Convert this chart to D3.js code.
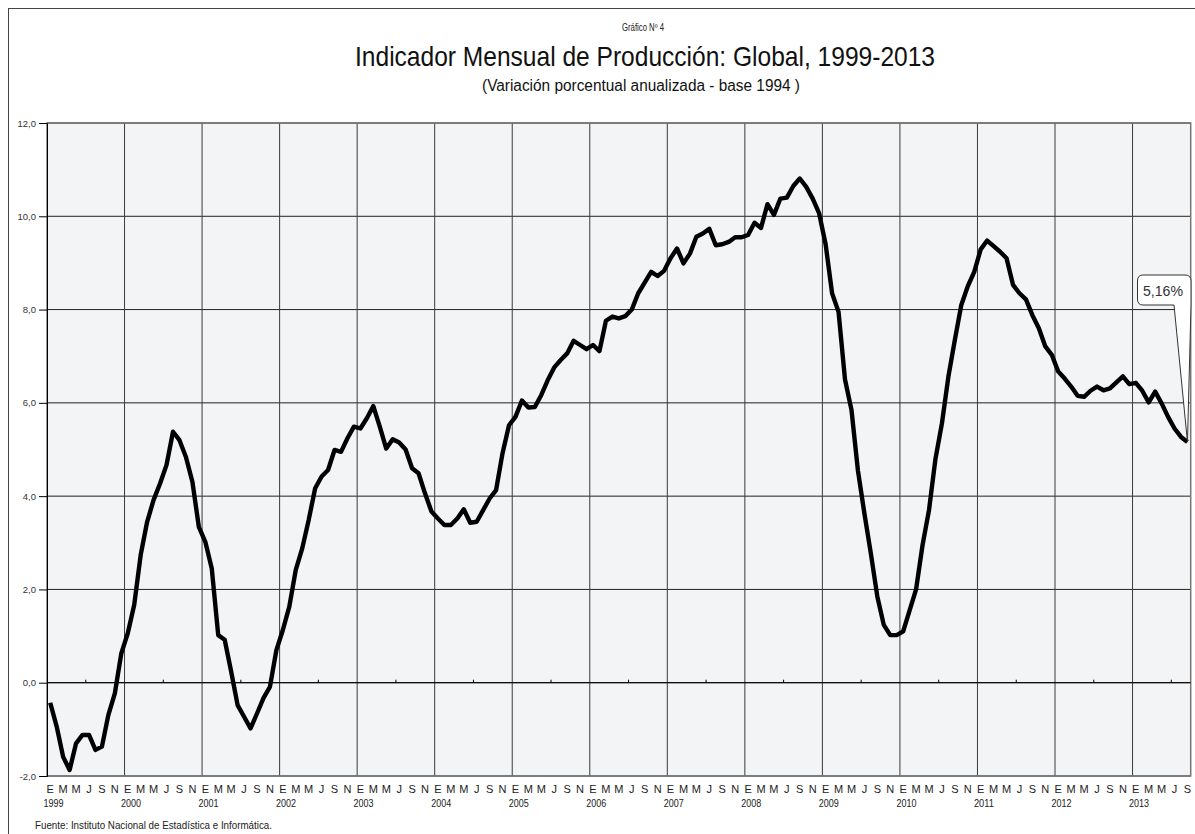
<!DOCTYPE html>
<html lang="es">
  <head>
  <meta charset="utf-8"/>
    <script type="text/javascript" src="https://cdnjs.cloudflare.com/ajax/libs/d3/7.8.5/d3.min.js"></script>
    <style>
      body { margin: 0; background: #fff; }
      .narrow { font-family: "Liberation Sans Narrow", "Arial Narrow", "Liberation Sans", sans-serif; }
    </style>
  </head>
  <body>
<svg class="grafico"></svg>
    <script type="text/javascript">

// years on the category axis
var anios = [1999, 2000, 2001, 2002, 2003, 2004, 2005, 2006, 2007, 2008, 2009, 2010, 2011, 2012, 2013];
// month letters written every two months
var letrasMes = ["E", "M", "M", "J", "S", "N"];
// y axis ticks
var ticksY = [-2, 0, 2, 4, 6, 8, 10, 12];

// monthly values, one array per year (2013 ends in September)
var v1999 = [-0.43, -0.94, -1.59, -1.87, -1.30, -1.12, -1.12, -1.44, -1.37, -0.69, -0.23, 0.63];
var v2000 = [1.06, 1.67, 2.74, 3.45, 3.92, 4.27, 4.67, 5.38, 5.20, 4.84, 4.31, 3.34];
var v2001 = [3.02, 2.45, 1.02, 0.92, 0.24, -0.48, -0.73, -0.98, -0.66, -0.33, -0.09, 0.70];
var v2002 = [1.13, 1.63, 2.42, 2.88, 3.49, 4.17, 4.42, 4.56, 4.99, 4.95, 5.24, 5.49];
var v2003 = [5.45, 5.67, 5.93, 5.49, 5.02, 5.22, 5.15, 5.00, 4.60, 4.49, 4.06, 3.67];
var v2004 = [3.52, 3.38, 3.38, 3.52, 3.72, 3.43, 3.45, 3.70, 3.95, 4.13, 4.92, 5.52];
var v2005 = [5.70, 6.05, 5.90, 5.91, 6.17, 6.49, 6.76, 6.92, 7.06, 7.33, 7.24, 7.15];
var v2006 = [7.24, 7.11, 7.76, 7.85, 7.81, 7.86, 8.00, 8.35, 8.58, 8.81, 8.72, 8.83];
var v2007 = [9.10, 9.31, 8.99, 9.20, 9.56, 9.63, 9.73, 9.38, 9.40, 9.45, 9.55, 9.55];
var v2008 = [9.60, 9.86, 9.75, 10.26, 10.03, 10.38, 10.40, 10.65, 10.81, 10.63, 10.38, 10.06];
var v2009 = [9.40, 8.35, 7.95, 6.50, 5.85, 4.55, 3.63, 2.77, 1.85, 1.24, 1.02, 1.02];
var v2010 = [1.10, 1.55, 2.00, 2.95, 3.70, 4.80, 5.56, 6.56, 7.35, 8.10, 8.50, 8.81];
var v2011 = [9.29, 9.48, 9.36, 9.24, 9.10, 8.53, 8.35, 8.22, 7.88, 7.60, 7.21, 7.03];
var v2012 = [6.67, 6.52, 6.35, 6.15, 6.13, 6.26, 6.35, 6.27, 6.31, 6.44, 6.57, 6.40];
var v2013 = [6.43, 6.26, 6.01, 6.24, 5.99, 5.70, 5.45, 5.27, 5.16];

var valores = [].concat(v1999, v2000, v2001, v2002, v2003, v2004, v2005, v2006,
  v2007, v2008, v2009, v2010, v2011, v2012, v2013);

var width = 1195, height = 834;
// plot box (kept away from window.top)
var pLeft = 47, pRight = 1190.7, pTop = 123, pBottom = 776;

var chart = d3.select('.grafico')
  .attr("width", width)
  .attr("height", height);

// outer frame
chart.append("rect")
  .attr("x", 8.5).attr("y", 8.5)
  .attr("width", 1200).attr("height", 840)
  .attr("fill", "none").attr("stroke", "#444").attr("stroke-width", 1);

var x = d3.scaleBand()
  .domain(d3.range(valores.length))
  .range([pLeft, pRight])
  .padding(0);

var y = d3.scaleLinear()
  .domain([-2, 12])
  .range([pBottom, pTop]);

// plot background
chart.append("rect")
  .attr("x", pLeft).attr("y", pTop)
  .attr("width", pRight - pLeft).attr("height", pBottom - pTop)
  .attr("fill", "#f3f4f6");

// horizontal grid
chart.append("g").selectAll("line")
  .data(ticksY)
  .enter().append("line")
  .attr("x1", pLeft).attr("x2", pRight)
  .attr("y1", function(d) { return y(d); })
  .attr("y2", function(d) { return y(d); })
  .attr("stroke", "#222").attr("stroke-width", 1);

// vertical grid at each new year
chart.append("g").selectAll("line")
  .data(anios.slice(1))
  .enter().append("line")
  .attr("x1", function(d, i) { return x((i + 1) * 12); })
  .attr("x2", function(d, i) { return x((i + 1) * 12); })
  .attr("y1", pTop).attr("y2", pBottom)
  .attr("stroke", "#3a3a3a").attr("stroke-width", 1);

// plot border
chart.append("rect")
  .attr("x", pLeft).attr("y", pTop)
  .attr("width", pRight - pLeft).attr("height", pBottom - pTop)
  .attr("fill", "none").attr("stroke", "#777").attr("stroke-width", 1.5);

// y axis
var yAxis = d3.axisLeft(y)
  .tickValues(ticksY)
  .tickSize(8)
  .tickPadding(3)
  .tickFormat(function(d) { return (d < 0 ? "-" : "") + Math.abs(d).toFixed(1).replace(".", ","); });

var gy = chart.append("g")
  .attr("transform", "translate(" + pLeft + ",0)")
  .call(yAxis);
gy.select(".domain").attr("stroke", "#000");
gy.selectAll(".tick line").attr("stroke", "#000");
gy.selectAll("text")
  .attr("font-family", "Liberation Sans, sans-serif")
  .attr("font-size", 9.5)
  .attr("fill", "#333");

// zero line with half-year ticks
chart.append("line")
  .attr("x1", pLeft).attr("x2", pRight)
  .attr("y1", y(0)).attr("y2", y(0))
  .attr("stroke", "#000").attr("stroke-width", 1);
chart.append("g").selectAll("line")
  .data(d3.range(6, valores.length, 12))
  .enter().append("line")
  .attr("x1", function(d) { return x(d); })
  .attr("x2", function(d) { return x(d); })
  .attr("y1", y(0) - 3).attr("y2", y(0))
  .attr("stroke", "#000");

// month letters
chart.append("g").attr("class", "narrow").selectAll("text")
  .data(d3.range(0, valores.length, 2))
  .enter().append("text")
  .attr("x", function(d) { return x(d) + x.bandwidth() / 2; })
  .attr("y", 793)
  .attr("text-anchor", "middle")
  .attr("font-size", 11)
  .attr("fill", "#222")
  .text(function(d) { return letrasMes[(d % 12) / 2]; });

// year labels
chart.append("g").attr("class", "narrow").selectAll("text")
  .data(anios)
  .enter().append("text")
  .attr("x", function(d, i) { return x(i * 12 + 1); })
  .attr("y", 807)
  .attr("text-anchor", "middle")
  .attr("font-size", 10.5)
  .attr("textLength", 20)
  .attr("lengthAdjust", "spacingAndGlyphs")
  .attr("fill", "#222")
  .text(function(d) { return d; });

// the series
var linea = d3.line()
  .x(function(d, i) { return x(i) + x.bandwidth() / 2; })
  .y(function(d) { return y(d); });

chart.append("path")
  .datum(valores)
  .attr("d", linea)
  .attr("fill", "none")
  .attr("stroke", "#000")
  .attr("stroke-width", 4.4)
  .attr("stroke-linejoin", "round");

// callout with last value
var ult = valores.length - 1;
var px = x(ult) + x.bandwidth() / 2, py = y(valores[ult]);
chart.append("path")
  .attr("d", "M1143,275 H1185 Q1191,275 1191,281 V305 L" + px + "," + py +
    " L1174,305 H1143 Q1137.5,305 1137.5,299 V281 Q1137.5,275 1143,275 Z")
  .attr("fill", "#fff")
  .attr("stroke", "#333")
  .attr("stroke-width", 1);
chart.append("text")
  .attr("class", "narrow")
  .attr("x", 1163).attr("y", 296)
  .attr("text-anchor", "middle")
  .attr("font-size", 15)
  .attr("textLength", 40)
  .attr("lengthAdjust", "spacingAndGlyphs")
  .attr("fill", "#333")
  .text(d3.format(".2f")(valores[ult]).replace(".", ",") + "%");

// titles, squeezed to the narrow face of the original
chart.append("text").attr("class", "narrow")
  .attr("x", 643).attr("y", 31).attr("text-anchor", "middle")
  .attr("font-size", 10).attr("fill", "#222")
  .attr("textLength", 42).attr("lengthAdjust", "spacingAndGlyphs")
  .text("Gráfico Nº 4");
chart.append("text").attr("class", "narrow")
  .attr("x", 645).attr("y", 66).attr("text-anchor", "middle")
  .attr("font-size", 28).attr("fill", "#111")
  .attr("textLength", 580).attr("lengthAdjust", "spacingAndGlyphs")
  .text("Indicador Mensual de Producción: Global, 1999-2013");
chart.append("text").attr("class", "narrow")
  .attr("x", 641).attr("y", 91).attr("text-anchor", "middle")
  .attr("font-size", 16).attr("fill", "#111")
  .attr("textLength", 318).attr("lengthAdjust", "spacingAndGlyphs")
  .text("(Variación porcentual anualizada - base 1994 )");

chart.append("text").attr("class", "narrow")
  .attr("x", 35).attr("y", 829)
  .attr("font-size", 11).attr("fill", "#222")
  .attr("textLength", 237).attr("lengthAdjust", "spacingAndGlyphs")
  .text("Fuente: Instituto Nacional de Estadística e Informática.");
    </script>
  </body>
</html>
